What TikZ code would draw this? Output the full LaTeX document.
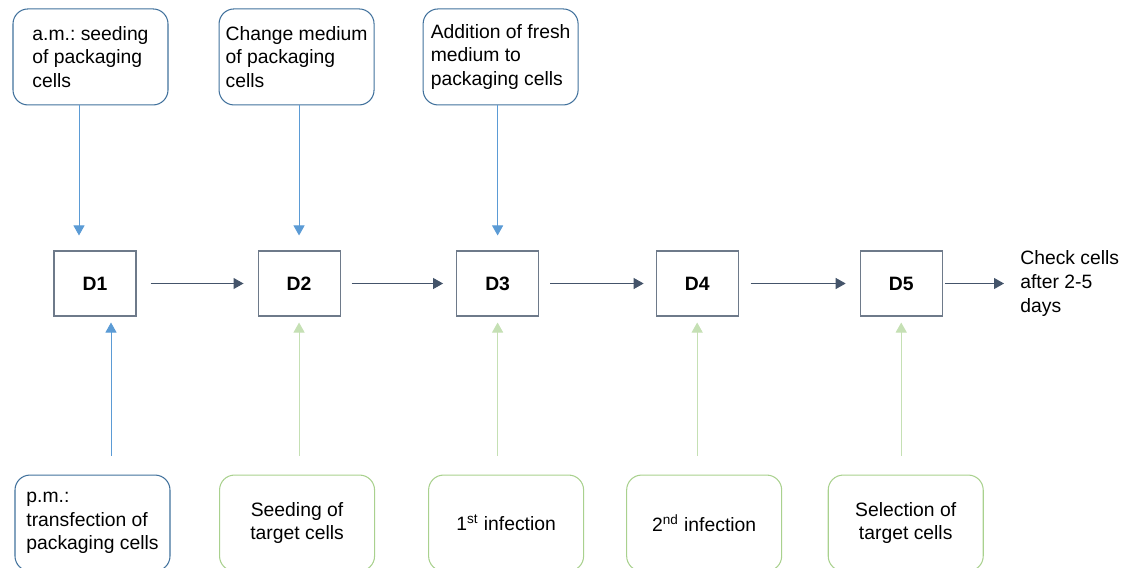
\documentclass[tikz,border=0pt]{standalone}
\usepackage{fontspec}
\setmainfont{Liberation Sans}
\frenchspacing
\usepackage{tikz}
\usetikzlibrary{
    positioning,    % For relative node placement (right=of, etc.)
    arrows.meta     % For arrow tip styles like Triangle
}
\definecolor{packblue}{RGB}{65, 113, 156}
\definecolor{lineblue}{RGB}{91, 155, 213}
\definecolor{targetgreen}{RGB}{169, 209, 142}
\definecolor{linegreen}{RGB}{197, 224, 180}
\definecolor{dayslate}{RGB}{68, 84, 106}
\definecolor{daygray}{RGB}{110, 122, 138}

\begin{document}
\begin{tikzpicture}[
    font=\fontsize{11}{13.4}\selectfont,
    >={Triangle[length=0.2cm,width=0.22cm]}, % Default arrow tip style
    % Styles
    day_box/.style={ % Style for the day boxes
        rectangle,
        draw=daygray,
        line width=0.6pt,
        minimum width=1.64cm,
        minimum height=1.3cm,
        font=\fontsize{11}{13.4}\selectfont\bfseries
    },
    pack_box/.style={ % Rounded box for packaging cell steps
        rectangle,
        rounded corners=0.3cm,
        draw=packblue,
        line width=0.6pt,
        minimum width=3.1cm,
        minimum height=1.92cm,
        align=left
    },
    target_box/.style={ % Rounded box for target cell steps
        pack_box,
        draw=targetgreen,
        align=center
    },
    flow_arrow/.style={
        ->, line width=0.55pt, dayslate
    },
    blue_arrow/.style={
        ->, line width=0.55pt, lineblue
    },
    green_arrow/.style={
        ->, line width=0.55pt, linegreen
    }
]
\useasboundingbox (0,0) rectangle (22.54,-11.34);

% --- Day row ---
\node[day_box] (D1) at (1.90,-5.67) {D1};
\node[day_box] (D2) [right=2.42cm of D1] {D2};
\node[day_box] (D3) [right=2.31cm of D2] {D3};
\node[day_box] (D4) [right=2.33cm of D3] {D4};
\node[day_box] (D5) [right=2.42cm of D4] {D5};
\node[align=left, anchor=west, inner sep=0pt] (check) at (20.40,-5.67) {Check cells\\after 2-5\\days};
% Arrows between days
\draw [flow_arrow] ([xshift=0.28cm]D1.east) -- ([xshift=-0.28cm]D2.west);
\draw [flow_arrow] ([xshift=0.22cm]D2.east) -- ([xshift=-0.26cm]D3.west);
\draw [flow_arrow] ([xshift=0.22cm]D3.east) -- ([xshift=-0.24cm]D4.west);
\draw [flow_arrow] ([xshift=0.24cm]D4.east) -- ([xshift=-0.28cm]D5.west);
\draw [flow_arrow] ([xshift=0.04cm]D5.east) -- ([xshift=-0.32cm]check.west);

% --- Top row: packaging cells ---
\node[pack_box] (top1) [above=2.90cm of D1, xshift=-0.09cm] {a.m.: seeding\\of packaging\\cells};
\node[pack_box] (top2) [above=2.90cm of D2, xshift=-0.05cm] {Change medium\\of packaging\\cells};
\node[pack_box] (top3) [above=2.90cm of D3, xshift=0.06cm] {Addition of fresh\\medium to\\packaging cells};
% Arrows down to the days
\draw [blue_arrow] ([xshift=-0.32cm]D1.north |- top1.south) -- ([shift={(-0.32cm,0.3cm)}]D1.north);
\draw [blue_arrow] (D2.north |- top2.south) -- ([yshift=0.3cm]D2.north);
\draw [blue_arrow] (D3.north |- top3.south) -- ([yshift=0.3cm]D3.north);

% --- Bottom row: transfection and target cells ---
\node[pack_box] (bot1) [below=3.16cm of D1, xshift=-0.05cm] {p.m.:\\transfection of\\packaging cells};
\node[target_box] (bot2) [below=3.16cm of D2, xshift=-0.04cm] {Seeding of\\target cells};
\node[target_box] (bot3) [below=3.16cm of D3, xshift=0.17cm] {1\textsuperscript{st} infection};
\node[target_box] (bot4) [below=3.16cm of D4, xshift=0.14cm] {2\textsuperscript{nd} infection};
\node[target_box] (bot5) [below=3.16cm of D5, xshift=0.09cm] {Selection of\\target cells};
% Arrows up to the days
\draw [blue_arrow] ([shift={(0.32cm,0.38cm)}]D1.south |- bot1.north) -- ([shift={(0.32cm,-0.12cm)}]D1.south);
\draw [green_arrow] ([yshift=0.38cm]D2.south |- bot2.north) -- ([yshift=-0.12cm]D2.south);
\draw [green_arrow] ([yshift=0.38cm]D3.south |- bot3.north) -- ([yshift=-0.12cm]D3.south);
\draw [green_arrow] ([yshift=0.38cm]D4.south |- bot4.north) -- ([yshift=-0.12cm]D4.south);
\draw [green_arrow] ([yshift=0.38cm]D5.south |- bot5.north) -- ([yshift=-0.12cm]D5.south);

\end{tikzpicture}
\end{document}
